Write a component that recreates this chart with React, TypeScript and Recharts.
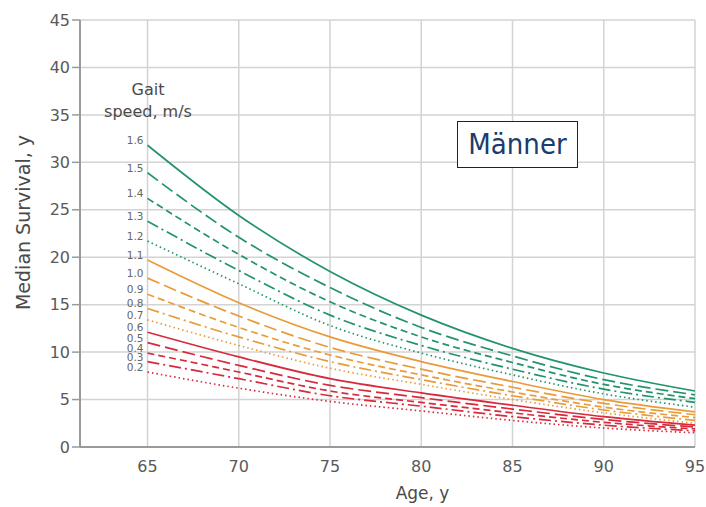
import React from 'react';
import { LineChart, Line, XAxis, YAxis, CartesianGrid } from 'recharts';

const ages = [65, 70, 75, 80, 85, 90, 95];
const speedLabels = ['1.6', '1.5', '1.4', '1.3', '1.2', '1.1', '1.0', '0.9', '0.8', '0.7', '0.6', '0.5', '0.4', '0.3', '0.2'];

// Median survival (years) by age, one array per gait speed
const v16 = [31.8, 24.4, 18.5, 13.9, 10.4, 7.8, 5.9];
const v15 = [28.9, 22.1, 16.8, 12.6, 9.6, 7.1, 5.5];
const v14 = [26.2, 20.3, 15.3, 11.6, 8.9, 6.6, 5.1];
const v13 = [23.8, 18.6, 13.9, 10.7, 8.2, 6.1, 4.7];
const v12 = [21.7, 17.2, 12.8, 9.9, 7.6, 5.6, 4.2];
const v11 = [19.7, 15.2, 11.6, 9.0, 6.9, 5.0, 3.7];
const v10 = [17.8, 13.8, 10.5, 8.2, 6.3, 4.6, 3.4];
const v09 = [16.1, 12.6, 9.7, 7.6, 5.8, 4.2, 3.1];
const v08 = [14.6, 11.6, 9.0, 7.1, 5.4, 3.9, 2.8];
const v07 = [13.4, 10.7, 8.3, 6.6, 5.0, 3.6, 2.5];
const v06 = [12.1, 9.5, 7.2, 5.7, 4.4, 3.2, 2.3];
const v05 = [11.0, 8.6, 6.5, 5.2, 4.0, 2.9, 2.1];
const v04 = [9.9, 7.9, 5.9, 4.7, 3.6, 2.6, 1.9];
const v03 = [9.0, 7.2, 5.4, 4.3, 3.2, 2.3, 1.7];
const v02 = [7.9, 6.2, 4.8, 3.8, 2.8, 2.0, 1.5];

const series = [v16, v15, v14, v13, v12, v11, v10, v09, v08, v07, v06, v05, v04, v03, v02];

const yTicks = [0, 5, 10, 15, 20, 25, 30, 35, 40, 45];
const xTicks = [65, 70, 75, 80, 85, 90, 95];

const groupColors = ['#22946a', '#e99b3a', '#d72a3c'];
const dashes = [undefined, '13 5', '7 4', '12 4 2 4', '1.5 3'];

const data = ages.map((age, i) => {
  const row: Record<string, number> = { age };
  series.forEach((s, k) => {
    row['s' + k] = s[i];
  });
  return row;
});

const FONT = '"DejaVu Sans", sans-serif';

const makeLabel = (k: number) => (props: any) => {
  if (props.index !== 0) return <g />;
  return (
    <text
      x={props.x - 4}
      y={props.y - 1}
      textAnchor="end"
      fontSize={10.5}
      fill="#666"
      fontFamily={FONT}
    >
      {speedLabels[k]}
    </text>
  );
};

const YLabel = (props: any) => {
  const vb = props.viewBox || { x: 20, y: 20, width: 60, height: 427 };
  const cx = vb.x + 3;
  const cy = vb.y + vb.height / 2 - 11;
  return (
    <text
      x={cx}
      y={cy}
      transform={`rotate(-90 ${cx} ${cy})`}
      textAnchor="middle"
      dominantBaseline="central"
      fontSize={19}
      fill="#4a4a4a"
      fontFamily={FONT}
    >
      Median Survival, y
    </text>
  );
};

const XLabel = (props: any) => {
  const vb = props.viewBox || { x: 80, y: 447, width: 615, height: 40 };
  const cx = vb.x + vb.width / 2 + 35;
  const cy = vb.y + 46;
  return (
    <text
      x={cx}
      y={cy}
      textAnchor="middle"
      dominantBaseline="central"
      fontSize={17}
      fill="#4a4a4a"
      fontFamily={FONT}
    >
      Age, y
    </text>
  );
};

export default function App() {
  return (
    <div style={{ position: 'absolute', left: 0, top: 0, width: 706, height: 507, background: '#fff' }}>
      <LineChart
        width={706}
        height={507}
        data={data}
        margin={{ top: 20, right: 11, bottom: 20, left: 20 }}
      >
        <CartesianGrid stroke="#d3d3d3" strokeWidth={1.5} />
        <XAxis
          dataKey="age"
          type="number"
          domain={[61.3, 95]}
          ticks={xTicks}
          height={40}
          axisLine={{ stroke: '#9a9a9a', strokeWidth: 2 }}
          tickLine={false}
          tickMargin={8}
          tick={{ fill: '#5a5a5a', fontSize: 16, fontFamily: FONT }}
          label={<XLabel />}
        />
        <YAxis
          type="number"
          domain={[0, 45]}
          ticks={yTicks}
          width={60}
          axisLine={{ stroke: '#9a9a9a', strokeWidth: 2 }}
          tickLine={{ stroke: '#9a9a9a', strokeWidth: 1.5 }}
          tickSize={8}
          tickMargin={2}
          tick={{ fill: '#5a5a5a', fontSize: 16, fontFamily: FONT }}
          label={<YLabel />}
        />
        {series.map((_, k) => (
          <Line
            key={k}
            dataKey={'s' + k}
            type="monotone"
            stroke={groupColors[Math.floor(k / 5)]}
            strokeDasharray={dashes[k % 5]}
            strokeWidth={1.7}
            dot={false}
            activeDot={false}
            isAnimationActive={false}
            label={makeLabel(k)}
          />
        ))}
      </LineChart>
      <div
        style={{
          position: 'absolute',
          left: 98,
          top: 79,
          width: 100,
          textAlign: 'center',
          fontSize: 16,
          lineHeight: '22px',
          fontFamily: FONT,
          color: '#4a4a4a',
        }}
      >
        Gait
        <br />
        speed, m/s
      </div>
      <div
        style={{
          position: 'absolute',
          left: 457,
          top: 121,
          width: 121,
          height: 47,
          boxSizing: 'border-box',
          border: '1px solid #222',
          background: '#fff',
          textAlign: 'center',
          lineHeight: '45px',
          fontSize: 29,
          fontFamily: '"DejaVu Sans Condensed", "DejaVu Sans", sans-serif',
          color: '#1b3c6e',
        }}
      >
        Männer
      </div>
    </div>
  );
}
